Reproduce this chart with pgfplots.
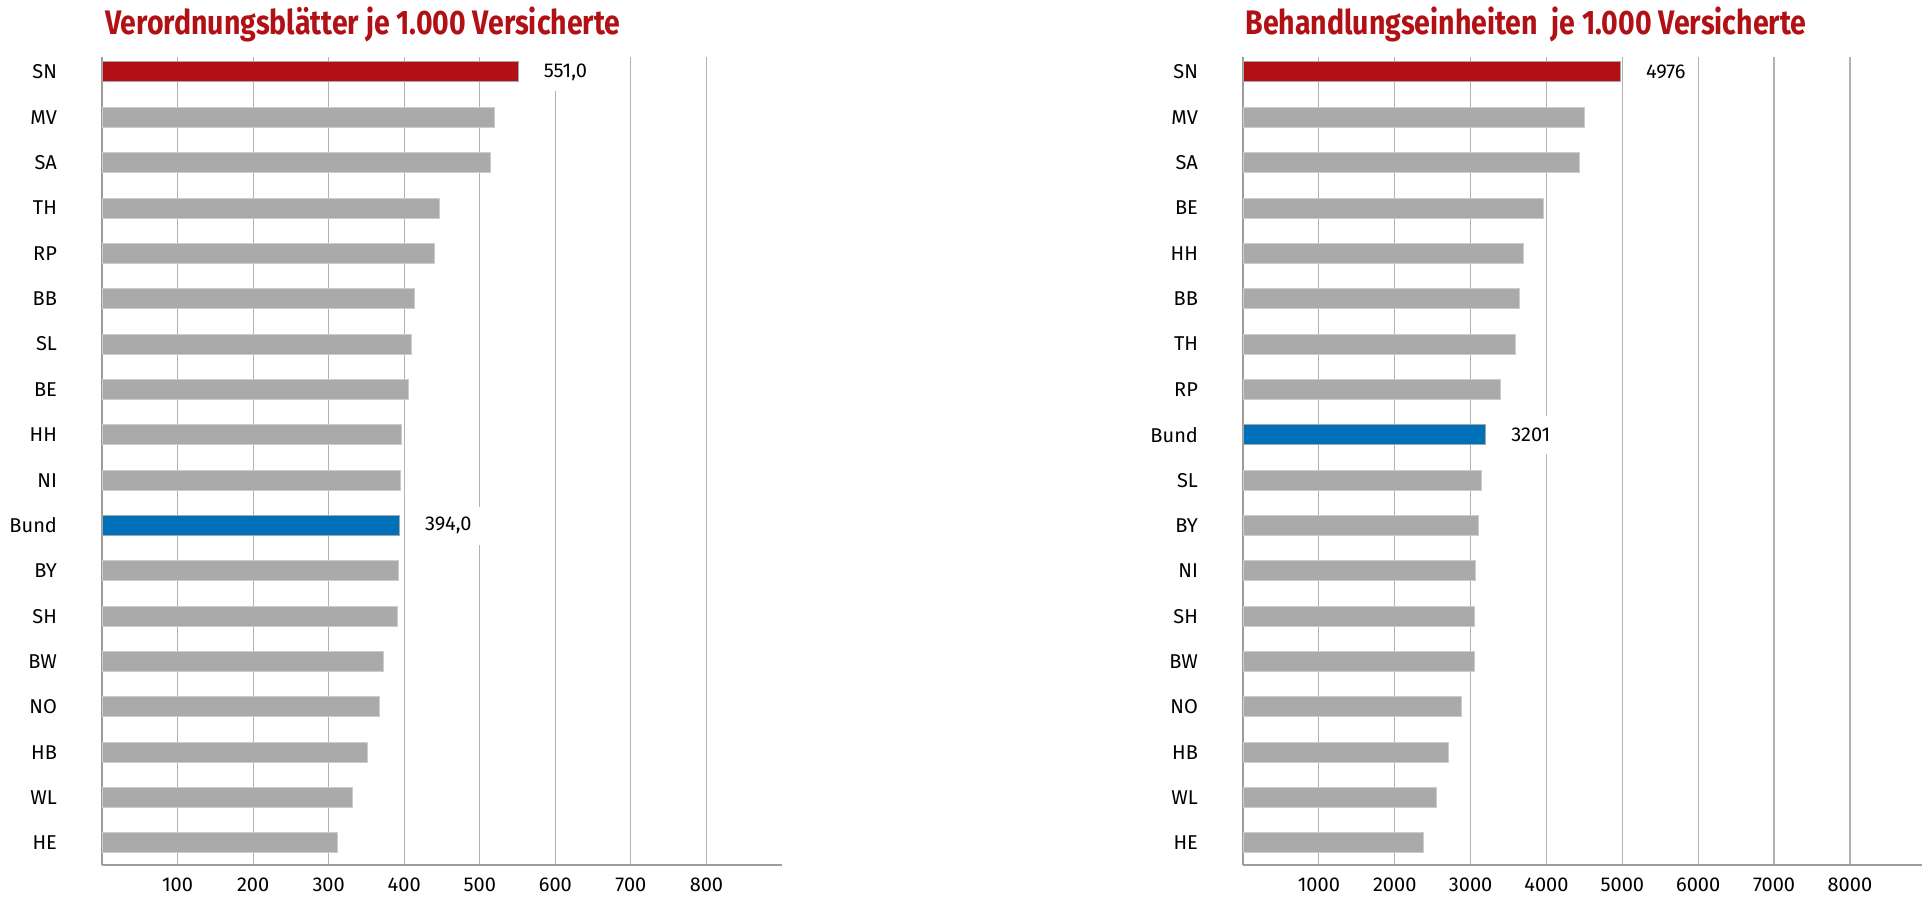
\documentclass[border=0pt]{standalone}
\usepackage{fontspec}
\setmainfont{Fira Sans}
\usepackage{pgfplots}
\usepackage{pgfplotstable}
\usepackage{graphicx}
\pgfplotsset{compat=1.18}

\definecolor{barGray}{HTML}{AAAAAA}
\definecolor{barRed}{HTML}{B11015}
\definecolor{barBlue}{HTML}{0070B8}
\definecolor{titleRed}{HTML}{B11015}
\definecolor{gridGray}{HTML}{B2B2B2}
\definecolor{axisGray}{HTML}{9C9C9C}

% title squeezed to a given width (the original face is condensed)
\newsavebox\fitbox
\newcommand\fitto[2]{\sbox\fitbox{#2}\pgfmathsetmacro\fitr{#1/\the\wd\fitbox}\scalebox{\fitr}[1]{\usebox\fitbox}}

% Verordnungsblaetter je 1.000 Versicherte (idx 17 = top row)
\pgfplotstableread{
idx val
16 520
15 514
14 447
13 440
12 413
11 409
10 406
9  396
8  395
6  393
5  391
4  373
3  367
2  352
1  332
0  312
}\vblGray
\pgfplotstableread{
idx val lab
17 551.0 551,0
}\vblSN
\pgfplotstableread{
idx val lab
7 394.0 394,0
}\vblBund

% Behandlungseinheiten je 1.000 Versicherte
\pgfplotstableread{
idx val
16 4495
15 4440
14 3955
13 3700
12 3650
11 3590
10 3400
8  3140
7  3110
6  3070
5  3050
4  3045
3  2880
2  2705
1  2545
0  2375
}\beGray
\pgfplotstableread{
idx val lab
17 4976 4976
}\beSN
\pgfplotstableread{
idx val lab
9 3201 3201
}\beBund

\pgfplotsset{
  laenderbars/.style={
    scale only axis,
    height=404pt,
    xbar, bar width=10pt,
    ymin=-0.485, ymax=17.33,
    ytick={0,...,17},
    axis x line=bottom, axis y line=left,
    axis line style={axisGray, line width=1.2pt, -},
    major tick length=0pt,
    xmajorgrids,
    grid style={gridGray, line width=0.6pt},
    tick label style={font=\fontsize{10}{12}\selectfont, text=black},
    yticklabel style={xshift=-19pt},
    xticklabel style={yshift=-2.7pt},
    /pgf/number format/assume math mode=true,
    /pgf/number format/1000 sep={},
    clip=false,
    anchor=south west,
  },
  grauBar/.style={fill=barGray, draw=black!20, line width=0.5pt, bar shift=0pt},
  wertLabel/.style={
    bar shift=0pt,
    nodes near coords,
    point meta=explicit symbolic,
    every node near coord/.append style={
      anchor=west, fill=white, inner xsep=6pt, inner ysep=0pt,
      minimum height=19pt, xshift=6.5pt,
      font=\fontsize{10}{12}\selectfont, text=black},
  },
}

\begin{document}
\begin{tikzpicture}
\path[use as bounding box] (0,0) rectangle (962pt,449pt);

\node[anchor=west, text=titleRed, inner sep=0pt] at (52.5pt,436.5pt)
  {\fitto{257.5pt}{\fontsize{17}{20}\selectfont\bfseries Verordnungsblätter je 1.000 Versicherte}};
\node[anchor=west, text=titleRed, inner sep=0pt] at (622.5pt,436.5pt)
  {\fitto{280.5pt}{\fontsize{17}{20}\selectfont\bfseries Behandlungseinheiten\ \ je 1.000 Versicherte}};

\begin{axis}[
  laenderbars,
  at={(51pt,16.5pt)},
  width=340pt,
  xmin=0, xmax=900,
  xtick={100,200,...,800},
  yticklabels={HE,WL,HB,NO,BW,SH,BY,Bund,NI,HH,BE,SL,BB,RP,TH,SA,MV,SN},
]
\addplot[grauBar] table[x=val, y=idx] {\vblGray};
\addplot[wertLabel, fill=barRed, draw=black!35, line width=0.5pt] table[x=val, y=idx, meta=lab] {\vblSN};
\addplot[wertLabel, fill=barBlue, draw=black!35, line width=0.5pt] table[x=val, y=idx, meta=lab] {\vblBund};
\end{axis}

\begin{axis}[
  laenderbars,
  at={(621.5pt,16.5pt)},
  width=339.5pt,
  xmin=0, xmax=8950,
  xtick={1000,2000,...,8000},
  yticklabels={HE,WL,HB,NO,BW,SH,NI,BY,SL,Bund,RP,TH,BB,HH,BE,SA,MV,SN},
]
\addplot[grauBar] table[x=val, y=idx] {\beGray};
\addplot[wertLabel, fill=barRed, draw=black!35, line width=0.5pt] table[x=val, y=idx, meta=lab] {\beSN};
\addplot[wertLabel, fill=barBlue, draw=black!35, line width=0.5pt] table[x=val, y=idx, meta=lab] {\beBund};
\end{axis}
\end{tikzpicture}
\end{document}
